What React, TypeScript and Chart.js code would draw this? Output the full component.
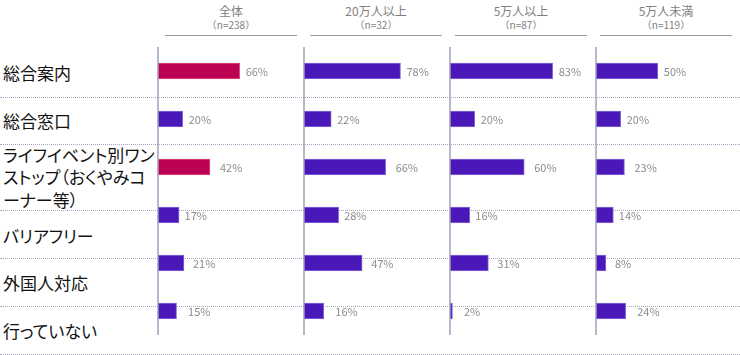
import React, { useEffect, useRef } from "react";
import { Chart, registerables } from "chart.js";

Chart.register(...registerables);

// ---- data ----
const categories = [
  "総合案内",
  "総合窓口",
  "ライフイベント別ワンストップ（おくやみコーナー等）",
  "バリアフリー",
  "外国人対応",
  "行っていない",
];
const categoryLines = [
  ["総合案内"],
  ["総合窓口"],
  ["ライフイベント別ワン", "ストップ（おくやみコ", "ーナー等）"],
  ["バリアフリー"],
  ["外国人対応"],
  ["行っていない"],
];
const groups = ["全体", "20万人以上", "5万人以上", "5万人未満"];
const groupN = [238, 32, 87, 119];
const valuesAll = [66, 20, 42, 17, 21, 15];
const values200k = [78, 22, 66, 28, 47, 16];
const values50kPlus = [83, 20, 60, 16, 31, 2];
const values50kMinus = [50, 20, 23, 14, 8, 24];
const highlightedInAll = [0, 2];

// ---- styles ----
const CRIMSON = "#BC0052";
const CRIMSON_EDGE = "#DA4C86";
const PURPLE = "#4A17B8";
const PURPLE_EDGE = "#8A6ADA";
const rowHeights = [47, 46, 65, 47, 47, 47];
const rowPadTop = [0, 0, 0, 4, 2, 1];
const labelGap = [6, 6, 10, 5.5, 9, 11.5];
const FONT = '"Noto Sans CJK JP", "Noto Sans", sans-serif';

export default function App() {
  const ref = useRef<HTMLCanvasElement>(null);

  useEffect(() => {
    const series = [valuesAll, values200k, values50kPlus, values50kMinus];
    const scales: any = {
      y: { type: "category", display: false, offset: true },
    };
    series.forEach((_, i) => {
      scales["x" + i] = {
        type: "linear",
        position: "bottom",
        stack: "panels",
        stackWeight: 1,
        min: 0,
        max: 118,
        display: true,
        ticks: { display: false },
        grid: { display: false, drawTicks: false, tickLength: 0 },
        border: { display: false },
        title: { display: false },
      };
    });

    const datasets = series.map((vals, i) => ({
      label: groups[i],
      data: vals,
      xAxisID: "x" + i,
      yAxisID: "y",
      grouped: false,
      barThickness: 16,
      borderWidth: 1,
      backgroundColor: vals.map((_, j) =>
        i === 0 && highlightedInAll.includes(j) ? CRIMSON : PURPLE
      ),
      borderColor: vals.map((_, j) =>
        i === 0 && highlightedInAll.includes(j) ? CRIMSON_EDGE : PURPLE_EDGE
      ),
    }));

    const panelPlugin = {
      id: "panelDecor",
      afterDatasetsDraw(chart: any) {
        const ctx = chart.ctx;
        const { top, bottom } = chart.chartArea;
        ctx.save();
        ctx.strokeStyle = "#a0a0b8";
        ctx.lineWidth = 1.5;
        for (let i = 0; i < series.length; i++) {
          const s = chart.scales["x" + i];
          const x = s.getPixelForValue(0);
          ctx.beginPath();
          ctx.moveTo(x, top);
          ctx.lineTo(x, bottom);
          ctx.stroke();
        }
        ctx.font = `11px ${FONT}`;
        ctx.fillStyle = "#8c8c8c";
        ctx.textAlign = "left";
        ctx.textBaseline = "middle";
        chart.data.datasets.forEach((ds: any, di: number) => {
          const meta = chart.getDatasetMeta(di);
          meta.data.forEach((bar: any, j: number) => {
            ctx.fillText(`${ds.data[j]}%`, bar.x + labelGap[j], bar.y + 0.5);
          });
        });
        ctx.restore();
      },
    };

    const chart = new Chart(ref.current as HTMLCanvasElement, {
      type: "bar",
      data: { labels: categories, datasets },
      options: {
        indexAxis: "y",
        animation: false,
        responsive: false,
        devicePixelRatio: 1,
        layout: { padding: { left: 158, right: 1, top: 47, bottom: 20 } },
        scales,
        plugins: {
          legend: { display: false },
          tooltip: { enabled: false },
        },
      } as any,
      plugins: [panelPlugin],
    });
    return () => chart.destroy();
  }, []);

  return (
    <div
      style={{
        position: "fixed",
        left: 0,
        top: 0,
        width: 740,
        height: 355,
        overflow: "hidden",
        background: "#fff",
        fontFamily: FONT,
      }}
    >
      {groups.map((g, i) => (
        <div
          key={g}
          style={{
            position: "absolute",
            left: 158 + i * 145,
            top: 3,
            width: 146,
            textAlign: "center",
            color: "#808080",
          }}
        >
          <div style={{ fontSize: 12, lineHeight: "16px" }}>{g}</div>
          <div style={{ fontSize: 10, lineHeight: "12px" }}>
            （n={groupN[i]}）
          </div>
          <div
            style={{
              margin: "4px 7px 0 7px",
              borderTop: "1.5px solid #9a9a9a",
            }}
          />
        </div>
      ))}
      <div style={{ position: "absolute", left: 0, top: 50, width: 740 }}>
        {categoryLines.map((lines, i) => (
          <div
            key={i}
            style={{
              height: rowHeights[i],
              boxSizing: "content-box",
              borderBottom: "1px dotted #a5a5c2",
              display: "flex",
              alignItems: "center",
              paddingLeft: 3,
            }}
          >
            <div
              style={{
                fontSize: 17,
                lineHeight: "22.5px",
                color: "#111",
                paddingTop: rowPadTop[i],
                fontFeatureSettings: '"palt"',
              }}
            >
              {lines.map((l, k) => (
                <div key={k}>{l}</div>
              ))}
            </div>
          </div>
        ))}
      </div>
      <canvas
        ref={ref}
        width={743}
        height={355}
        style={{
          position: "absolute",
          left: 0,
          top: 0,
          width: 743,
          height: 355,
        }}
      />
    </div>
  );
}
